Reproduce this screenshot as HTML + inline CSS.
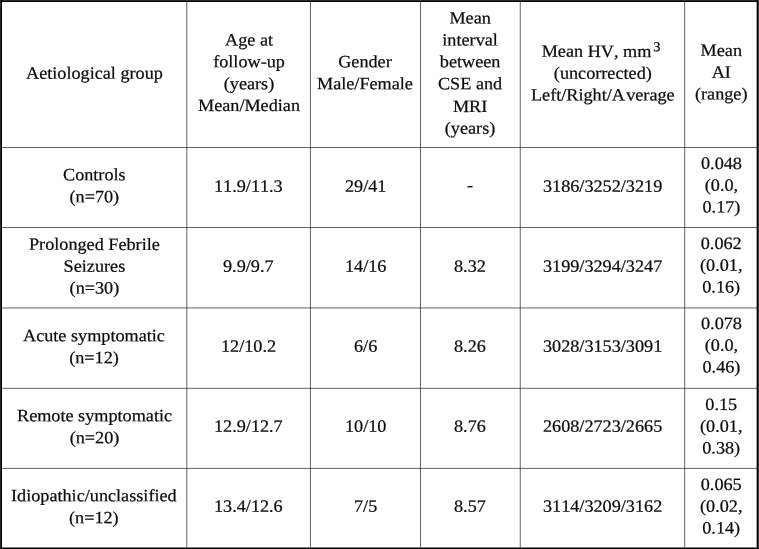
<!DOCTYPE html>
<html><head><meta charset="utf-8"><title>Table</title>
<style>
html,body{margin:0;padding:0;background:#fff;}
body{width:759px;height:549px;position:relative;overflow:hidden;font-family:"Liberation Serif",serif;color:#0c0c0c;}
.b{position:absolute;}
svg.grid{position:absolute;left:0;top:0;}
.txt{position:absolute;left:0;top:0;width:759px;height:549px;will-change:transform;transform:translate(0px,0px) scale(1.00001);}
.c{position:absolute;display:flex;align-items:center;justify-content:center;text-align:center;font-size:18.2px;line-height:23.158px;white-space:nowrap;font-kerning:none;font-variant-ligatures:none;-webkit-text-stroke:0.25px #0c0c0c;}
.c>div{transform:rotate(0.03deg) scaleY(0.95);}
.sup{font-size:14.5px;position:relative;top:-5.8px;margin-left:2px;margin-right:3.4px;line-height:1px;}
</style></head><body>
<!-- outer frame -->
<div class="b" style="left:0;top:0;width:759px;height:1px;background:#2a2a2a"></div>
<div class="b" style="left:0;top:1px;width:759px;height:1px;background:#000"></div>
<div class="b" style="left:0;top:0;width:1px;height:549px;background:#282828"></div>
<div class="b" style="left:1px;top:0;width:1px;height:549px;background:#000"></div>
<div class="b" style="left:756px;top:2px;width:1px;height:546px;background:#a0a0a0"></div>
<div class="b" style="left:757px;top:0;width:1px;height:549px;background:#000"></div>
<div class="b" style="left:758px;top:0;width:1px;height:549px;background:#3a3a3a"></div>
<div class="b" style="left:2px;top:547px;width:755px;height:1px;background:#808080"></div>
<div class="b" style="left:0;top:548px;width:759px;height:1px;background:#000"></div>
<svg class="grid" width="759" height="549" viewBox="0 0 759 549">
<g stroke="#1a1a1a" stroke-width="0.68" fill="none">
<line x1="186.8" y1="2" x2="186.8" y2="547.5"/>
<line x1="310.45" y1="2" x2="310.45" y2="547.5"/>
<line x1="420.5" y1="2" x2="420.5" y2="547.5"/>
<line x1="520.25" y1="2" x2="520.25" y2="547.5"/>
<line x1="684.7" y1="2" x2="684.7" y2="547.5"/>
<line x1="2" y1="147.5" x2="757" y2="147.5" stroke-width="0.68"/>
<line x1="2" y1="227.5" x2="757" y2="227.5" stroke-width="0.68"/>
<line x1="2" y1="307.95" x2="757" y2="307.95" stroke-width="0.68"/>
<line x1="2" y1="388.3" x2="757" y2="388.3" stroke-width="0.68"/>
<line x1="2" y1="468.4" x2="757" y2="468.4" stroke-width="0.68"/>
</g></svg>
<div class="txt">
<div class="c" style="left:2.00px;top:0.60px;width:184.30px;height:145.00px"><div>Aetiological group</div></div>
<div class="c" style="left:187.30px;top:0.60px;width:122.65px;height:145.00px"><div>Age at<br>follow-up<br>(years)<br>Mean/Median</div></div>
<div class="c" style="left:310.95px;top:0.60px;width:109.05px;height:145.00px"><div>Gender<br>Male/Female</div></div>
<div class="c" style="left:421.00px;top:0.60px;width:98.75px;height:145.00px"><div>Mean<br>interval<br>between<br>CSE and<br>MRI<br>(years)</div></div>
<div class="c" style="left:520.75px;top:1.40px;width:163.45px;height:145.00px"><div>Mean HV, mm<span class="sup">3</span><br>(uncorrected)<br>Left/Right/<span style="letter-spacing:1.2px">A</span>verage</div></div>
<div class="c" style="left:685.20px;top:0.60px;width:71.60px;height:145.00px"><div>Mean<br>AI<br>(range)</div></div>
<div class="c" style="left:2.00px;top:146.60px;width:184.30px;height:79.00px"><div>Controls<br>(n=70)</div></div>
<div class="c" style="left:187.30px;top:146.60px;width:122.65px;height:79.00px"><div>11.9/11.3</div></div>
<div class="c" style="left:310.95px;top:146.60px;width:109.05px;height:79.00px"><div>29/41</div></div>
<div class="c" style="left:421.00px;top:145.90px;width:98.75px;height:79.00px"><div>-</div></div>
<div class="c" style="left:520.75px;top:146.60px;width:163.45px;height:79.00px"><div>3186/3252/3219</div></div>
<div class="c" style="left:685.20px;top:146.00px;width:71.60px;height:79.00px"><div>0.048<br>(0.0,<br>0.17)</div></div>
<div class="c" style="left:2.00px;top:226.60px;width:184.30px;height:79.45px"><div>Prolonged Febrile<br>Seizures<br>(n=30)</div></div>
<div class="c" style="left:187.30px;top:226.60px;width:122.65px;height:79.45px"><div>9.9/9.7</div></div>
<div class="c" style="left:310.95px;top:226.60px;width:109.05px;height:79.45px"><div>14/16</div></div>
<div class="c" style="left:421.00px;top:226.60px;width:98.75px;height:79.45px"><div>8.32</div></div>
<div class="c" style="left:520.75px;top:226.60px;width:163.45px;height:79.45px"><div>3199/3294/3247</div></div>
<div class="c" style="left:685.20px;top:226.00px;width:71.60px;height:79.45px"><div>0.062<br>(0.01,<br>0.16)</div></div>
<div class="c" style="left:2.00px;top:307.05px;width:184.30px;height:79.35px"><div>Acute symptomatic<br>(n=12)</div></div>
<div class="c" style="left:187.30px;top:307.05px;width:122.65px;height:79.35px"><div>12/10.2</div></div>
<div class="c" style="left:310.95px;top:307.05px;width:109.05px;height:79.35px"><div>6/6</div></div>
<div class="c" style="left:421.00px;top:307.05px;width:98.75px;height:79.35px"><div>8.26</div></div>
<div class="c" style="left:520.75px;top:307.05px;width:163.45px;height:79.35px"><div>3028/3153/3091</div></div>
<div class="c" style="left:685.20px;top:306.45px;width:71.60px;height:79.35px"><div>0.078<br>(0.0,<br>0.46)</div></div>
<div class="c" style="left:2.00px;top:387.40px;width:184.30px;height:79.10px"><div>Remote symptomatic<br>(n=20)</div></div>
<div class="c" style="left:187.30px;top:387.40px;width:122.65px;height:79.10px"><div>12.9/12.7</div></div>
<div class="c" style="left:310.95px;top:387.40px;width:109.05px;height:79.10px"><div>10/10</div></div>
<div class="c" style="left:421.00px;top:387.40px;width:98.75px;height:79.10px"><div>8.76</div></div>
<div class="c" style="left:520.75px;top:387.40px;width:163.45px;height:79.10px"><div>2608/2723/2665</div></div>
<div class="c" style="left:685.20px;top:386.80px;width:71.60px;height:79.10px"><div>0.15<br>(0.01,<br>0.38)</div></div>
<div class="c" style="left:2.00px;top:467.50px;width:184.30px;height:78.50px"><div>Idiopathic/unclassified<br>(n=12)</div></div>
<div class="c" style="left:187.30px;top:467.50px;width:122.65px;height:78.50px"><div>13.4/12.6</div></div>
<div class="c" style="left:310.95px;top:467.50px;width:109.05px;height:78.50px"><div>7/5</div></div>
<div class="c" style="left:421.00px;top:467.50px;width:98.75px;height:78.50px"><div>8.57</div></div>
<div class="c" style="left:520.75px;top:467.50px;width:163.45px;height:78.50px"><div>3114/3209/3162</div></div>
<div class="c" style="left:685.20px;top:467.90px;width:71.60px;height:78.50px"><div>0.065<br>(0.02,<br>0.14)</div></div>
</div>
</body></html>
